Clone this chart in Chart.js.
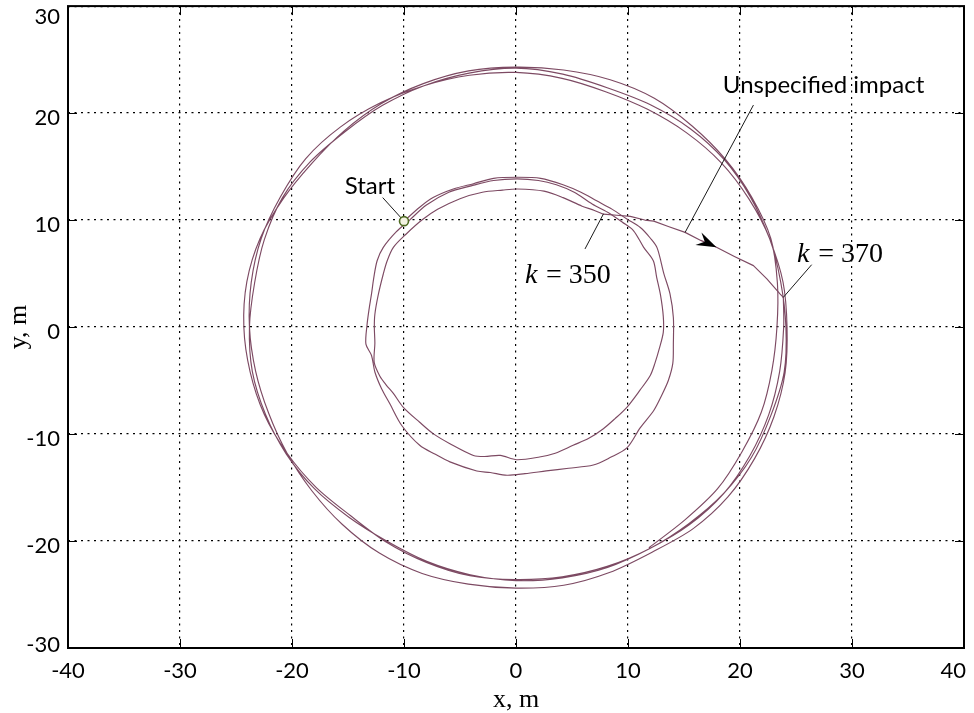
<!DOCTYPE html>
<html>
<head>
<meta charset="utf-8">
<title>Trajectory</title>
<script src="https://cdn.jsdelivr.net/npm/chart.js@4.4.1/dist/chart.umd.min.js"></script>
<style>
  html, body { margin: 0; padding: 0; background: #ffffff; }
  #wrap { width: 974px; height: 713px; }
</style>
</head>
<body>
<div id="wrap"><canvas id="chart" width="974" height="713"></canvas></div>
<script>
// Axis tick values (metres)
const xTicks = [-40, -30, -20, -10, 0, 10, 20, 30, 40];
const yTicks = [-30, -20, -10, 0, 10, 20, 30];

// Vehicle track [x, y] in metres, clockwise from the start point
const innerLap1 = [
  [-10.0, 9.9], [-8.6, 11.2], [-7.4, 12.1], [-5.6, 12.9], [-3.8, 13.4], [-2.0, 13.9],
  [0.1, 14.0], [2.2, 13.9], [4.2, 13.3], [5.8, 12.6], [7.2, 11.8], [8.6, 11.0],
  [9.9, 10.1], [11.1, 9.3], [12.0, 8.3], [12.6, 7.4], [13.2, 5.0], [13.75, 3.1],
  [14.05, 0.9], [14.05, -1.6], [14.0, -3.4], [13.6, -5.0], [13.0, -6.4], [12.3, -7.8],
  [11.1, -9.4], [9.9, -11.3], [8.4, -12.2], [6.9, -12.9], [4.7, -13.2], [2.7, -13.45],
  [0.8, -13.7], [-0.8, -13.85], [-2.3, -13.6], [-3.5, -13.45], [-5.9, -12.6], [-7.2, -11.9],
  [-8.6, -11.05], [-10.2, -9.2], [-11.25, -7.2], [-12.0, -5.77], [-12.6, -4.2], [-12.9, -2.66],
  [-13.4, -1.6], [-13.3, 0.2], [-13.1, 1.8], [-12.9, 3.1], [-12.7, 4.6], [-12.4, 6.2],
  [-11.85, 7.45], [-10.7, 8.9], [-9.5, 10.0]
];
const innerLap2 = [
  [-8.0, 11.4], [-6.0, 12.6], [-4.0, 13.2], [-2.0, 13.7], [0.1, 13.85], [2.0, 13.7],
  [3.6, 13.3], [5.2, 12.6], [6.8, 11.5], [8.4, 10.6], [9.5, 9.8], [10.5, 9.0],
  [11.4, 7.45], [12.26, 6.2], [12.56, 4.65], [12.9, 3.0], [13.15, 1.0], [13.15, -0.5],
  [12.8, -2.0], [12.4, -3.4], [12.0, -4.5], [11.07, -5.9], [9.9, -7.5], [8.8, -8.6],
  [7.8, -9.5], [6.5, -10.4], [5.1, -11.05], [3.5, -11.8], [2.1, -12.15], [0.06, -12.4],
  [-1.4, -12.0], [-2.8, -12.1], [-3.8, -12.0], [-5.9, -10.9], [-7.4, -9.96], [-8.6, -8.9],
  [-10.06, -7.5], [-10.95, -6.2], [-11.6, -5.4], [-12.15, -4.6], [-12.66, -3.3], [-12.6, -1.5],
  [-12.65, 0.0], [-12.6, 1.2], [-12.3, 3.0], [-11.85, 4.96], [-11.5, 6.2], [-10.95, 7.45],
  [-9.8, 8.7], [-8.4, 10.0]
];
const innerArc = [
  [-7.0, 11.0], [-5.0, 12.0], [-3.0, 12.6], [-1.2, 12.8], [0.1, 12.9], [2.5, 12.7],
  [4.2, 12.1], [5.9, 11.3], [7.0, 10.9], [7.8, 10.56]
];
// k = 350 to k = 370
const transfer = [
  [9.0, 10.45], [10.2, 10.35], [11.5, 10.0], [12.3, 9.9], [13.6, 9.4], [15.1, 8.85],
  [16.5, 8.1], [17.9, 7.45], [19.5, 6.6], [21.2, 5.74], [22.4, 4.5], [23.57, 3.1],
  [23.87, 2.78]
];
const outerLap1 = [
  [23.90, 0.00], [23.54, -4.16], [22.56, -8.21], [20.87, -12.05], [18.54, -15.56], [15.50, -18.46],
  [11.95, -20.70], [8.17, -22.47], [4.14, -23.44], [0.00, -23.70], [-4.09, -23.15], [-7.97, -21.90],
  [-11.55, -20.00], [-14.92, -17.77], [-18.00, -15.11], [-20.52, -11.85], [-22.37, -8.14], [-23.54, -4.16],
  [-23.80, 0.00], [-23.34, 4.12], [-22.47, 8.17], [-20.87, 12.05], [-18.38, 15.43], [-15.30, 18.23],
  [-11.95, 20.70], [-8.21, 22.56], [-4.19, 23.74], [0.00, 24.20], [4.18, 23.64], [8.14, 22.37],
  [12.00, 20.78], [15.56, 18.54], [18.61, 15.62], [20.96, 12.10], [22.65, 8.24], [23.84, 4.21]
];
const outerLap2 = [
  [24.20, 0.00], [24.03, -4.25], [23.03, -8.38], [21.30, -12.30], [18.92, -15.88], [15.82, -18.84],
  [12.15, -21.04], [8.34, -22.94], [4.26, -24.13], [0.00, -24.40], [-4.25, -24.03], [-8.38, -23.03],
  [-12.20, -21.13], [-15.50, -18.46], [-18.23, -15.30], [-20.44, -11.80], [-22.09, -8.04], [-23.25, -4.11],
  [-23.80, 0.00], [-23.64, 4.18], [-22.75, 8.28], [-21.04, 12.15], [-18.77, 15.75], [-15.69, 18.69],
  [-12.10, 20.96], [-8.21, 22.56], [-4.16, 23.54], [0.00, 23.80], [4.11, 23.25], [8.00, 22.00],
  [11.75, 20.35], [15.24, 18.15], [18.31, 15.37], [20.78, 12.00], [22.65, 8.24], [23.64, 4.18]
];
const outerLap3 = [
  [24.10, 0.00], [23.94, -4.23], [22.75, -8.28], [21.04, -12.15], [18.54, -15.56], [15.43, -18.38],
  [11.95, -20.70], [8.14, -22.37], [4.12, -23.34], [0.00, -23.60], [-4.11, -23.25], [-8.00, -22.00],
  [-11.60, -20.09], [-14.79, -17.62], [-17.85, -14.98], [-20.44, -11.80], [-22.47, -8.17], [-23.74, -4.19],
  [-24.30, 0.00], [-24.03, 4.25], [-22.84, 8.31], [-20.78, 12.00], [-18.23, 15.30], [-15.37, 18.31],
  [-12.05, 20.87], [-8.28, 22.75], [-4.23, 23.94], [0.00, 24.30], [4.25, 24.03], [8.41, 23.12],
  [12.35, 21.39], [15.75, 18.77], [18.69, 15.69], [21.04, 12.15], [22.75, 8.28]
];
const outerTail = [
  [23.34, 4.12], [23.30, 0.00], [22.85, -4.04], [21.90, -7.97], [20.18, -11.65], [18.00, -15.11],
  [15.11, -18.00], [11.90, -20.61]
];

const startPoint = [-10.0, 9.9];
const arrowTip = [17.9, 7.45];

// Callout leader lines, each [from, to]
const leaderStart = [[-11.9, 12.1], [-10.0, 9.9]];
const leaderImpact = [[15.1, 8.85], [21.2, 20.75]];
const leaderK350 = [[7.8, 10.56], [6.16, 7.3]];
const leaderK370 = [[23.87, 2.78], [26.4, 5.83]];

// Callout texts and their anchor points
const calloutTexts = ['Start', 'Unspecified impact'];
const calloutAnchors = [[-13.04, 12.45], [27.46, 21.87]];
const stepLabels = ['350', '370'];
const stepAnchors = [[0.8, 4.15], [25.1, 6.11]];

const toXY = arr => arr.map(([x, y]) => ({ x, y }));
const innerTrack = toXY([].concat(innerLap1, innerLap2, innerArc));
const transferLeg = toXY([innerArc[innerArc.length - 1]].concat(transfer));
const outerTrack = toXY([transfer[transfer.length - 1]].concat(outerLap1, outerLap2, outerLap3, outerTail));

const SANS = 'Lato, "Open Sans", sans-serif';
const SERIF = '"Liberation Serif", "DejaVu Serif", serif';
const TRACK_COLOR = '#7D4A63';

const leaderSet = pts => ({
  data: toXY(pts), showLine: true, borderColor: '#1a1a1a', borderWidth: 1,
  pointRadius: 0, pointHoverRadius: 0
});
const trackSet = (pts, tension) => ({
  data: pts, showLine: true, borderColor: TRACK_COLOR, borderWidth: 1.15, tension,
  borderJoinStyle: 'round', borderCapStyle: 'round', pointRadius: 0, pointHoverRadius: 0
});

// Frame, inward ticks, tick labels, arrowhead and callout texts
const overlay = {
  id: 'overlay',
  afterDatasetsDraw(chart) {
    const { ctx, chartArea: a, scales: { x, y } } = chart;
    ctx.save();
    ctx.setLineDash([]);

    // arrowhead on the transfer leg
    const i = transfer.findIndex(p => p[0] === arrowTip[0] && p[1] === arrowTip[1]);
    const p0 = transfer[i - 1], p1 = transfer[i + 1];
    const ang = Math.atan2(y.getPixelForValue(p1[1]) - y.getPixelForValue(p0[1]),
                           x.getPixelForValue(p1[0]) - x.getPixelForValue(p0[0]));
    ctx.translate(x.getPixelForValue(arrowTip[0]), y.getPixelForValue(arrowTip[1]));
    ctx.rotate(ang);
    ctx.beginPath();
    ctx.moveTo(0, 0);
    ctx.lineTo(-20, -7);
    ctx.lineTo(-13, 0);
    ctx.lineTo(-20, 7);
    ctx.closePath();
    ctx.fillStyle = '#000';
    ctx.fill();
    ctx.setTransform(1, 0, 0, 1, 0, 0);

    // inward tick marks on all four sides
    ctx.strokeStyle = '#000';
    ctx.lineWidth = 1;
    const tl = 9;
    ctx.beginPath();
    xTicks.forEach(v => {
      const px = Math.round(x.getPixelForValue(v)) + 0.5;
      ctx.moveTo(px, a.bottom); ctx.lineTo(px, a.bottom - tl);
      ctx.moveTo(px, a.top); ctx.lineTo(px, a.top + tl);
    });
    yTicks.forEach(v => {
      const py = Math.round(y.getPixelForValue(v)) + 0.5;
      ctx.moveTo(a.left, py); ctx.lineTo(a.left + tl, py);
      ctx.moveTo(a.right, py); ctx.lineTo(a.right - tl, py);
    });
    ctx.stroke();

    // plot frame
    ctx.lineWidth = 2;
    ctx.strokeRect(a.left, a.top, a.right - a.left, a.bottom - a.top);

    // tick labels
    ctx.fillStyle = '#000';
    ctx.font = '22px ' + SANS;
    ctx.textBaseline = 'alphabetic';
    ctx.textAlign = 'right';
    yTicks.forEach(v => {
      const py = y.getPixelForValue(v);
      const base = Math.min(Math.max(py + 11.5, a.top + 17.5), a.bottom + 3.7);
      ctx.fillText(String(v), a.left - 8, base);
    });
    ctx.textAlign = 'center';
    xTicks.forEach(v => {
      const px = x.getPixelForValue(v);
      const w = ctx.measureText(String(v)).width;
      const cx = Math.min(px, a.right + 2 - w / 2);
      ctx.fillText(String(v), cx, a.bottom + 30);
    });

    // callouts
    ctx.font = '24px ' + SANS;
    calloutTexts.forEach((t, k) => {
      const [vx, vy] = calloutAnchors[k];
      ctx.fillText(t, x.getPixelForValue(vx), y.getPixelForValue(vy));
    });

    // step labels: italic k, upright "= value"
    ctx.textAlign = 'left';
    stepLabels.forEach((t, k) => {
      const [vx, vy] = stepAnchors[k];
      const px = x.getPixelForValue(vx), py = y.getPixelForValue(vy);
      ctx.font = 'italic 28px ' + SERIF;
      ctx.fillText('k', px, py);
      const w = ctx.measureText('k').width;
      ctx.font = '28px ' + SERIF;
      ctx.fillText('\u2009= ' + t, px + w + 3, py);
    });
    ctx.restore();
  }
};

new Chart(document.getElementById('chart'), {
  type: 'scatter',
  data: {
    datasets: [
      {
        data: toXY([startPoint]), showLine: false, pointRadius: 4.5, pointHoverRadius: 4.5,
        pointBackgroundColor: '#F3F3E2', pointBorderColor: '#4F6B22', pointBorderWidth: 1.6
      },
      leaderSet(leaderStart),
      leaderSet(leaderImpact),
      leaderSet(leaderK350),
      leaderSet(leaderK370),
      trackSet(transferLeg, 0),
      trackSet(innerTrack, 0.3),
      trackSet(outerTrack, 0.3)
    ]
  },
  options: {
    responsive: false,
    animation: false,
    events: [],
    layout: { padding: { left: 0, right: 10, top: 5, bottom: 0 } },
    plugins: { legend: { display: false }, tooltip: { enabled: false } },
    scales: {
      x: {
        type: 'linear', min: -40, max: 40,
        afterBuildTicks: s => { s.ticks = xTicks.map(v => ({ value: v })); },
        afterFit: s => { s.height = 65; },
        ticks: { display: false },
        grid: { color: '#000', lineWidth: 1.2, drawTicks: false },
        border: { display: false, dash: [2, 4.5] },
        title: { display: true, text: 'x, m', color: '#000',
                 font: { family: SERIF, size: 26 }, padding: { top: 0, bottom: -3 } }
      },
      y: {
        type: 'linear', min: -30, max: 30,
        afterBuildTicks: s => { s.ticks = yTicks.map(v => ({ value: v })); },
        afterFit: s => { s.width = 68; },
        ticks: { display: false },
        grid: { color: '#000', lineWidth: 1.2, drawTicks: false },
        border: { display: false, dash: [2, 4.5] },
        title: { display: true, text: 'y, m', color: '#000',
                 font: { family: SERIF, size: 26 }, padding: { top: 4, bottom: 0 } }
      }
    }
  },
  plugins: [overlay]
});
</script>
</body>
</html>
